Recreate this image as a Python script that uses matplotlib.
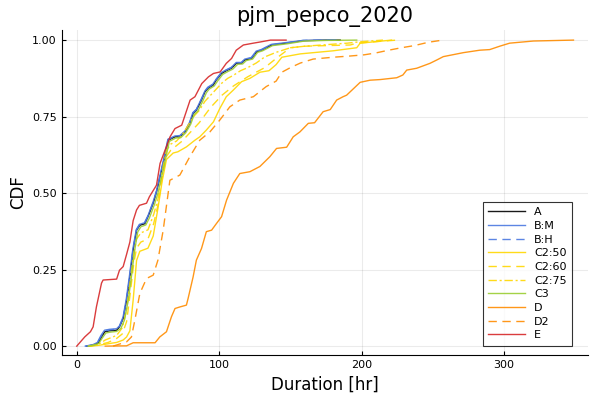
import matplotlib
matplotlib.use("Agg")
import matplotlib.pyplot as plt
from matplotlib.ticker import FormatStrFormatter

# duration [hr] / CDF pairs
a_x = [7, 11.5, 15, 17.4, 19.7, 23, 28, 30, 32.6, 35, 37.3, 39.6, 42, 44.3, 47.8, 50, 53.7, 56, 60.7, 64.2,
       69, 72.4, 76, 79.4, 81.7, 84, 87.6, 90, 92.3, 95.8, 98, 101.7, 105, 108.7, 112, 115.7, 118, 122.8,
       126.3, 129.8, 136.8, 147, 159, 175, 185]
a_y = [0, 0.003, 0.01, 0.03, 0.047, 0.05, 0.052, 0.063, 0.09, 0.15, 0.226, 0.314, 0.379, 0.395, 0.40, 0.423,
       0.467, 0.504, 0.597, 0.673, 0.684, 0.684, 0.70, 0.728, 0.76, 0.771, 0.804, 0.831, 0.843, 0.853, 0.87,
       0.891, 0.90, 0.908, 0.924, 0.924, 0.935, 0.94, 0.962, 0.967, 0.984, 0.99, 0.998, 1.0, 1.0]

bm_x = [6, 11, 14.5, 17, 19.5, 23, 28, 30, 32.5, 34.8, 37, 39.4, 41.8, 44, 47.5, 50, 53.5, 56, 60.5, 64,
        69, 72.4, 76, 79.2, 81.5, 84, 87.4, 90, 92, 95.5, 98, 101.5, 105, 108.5, 112, 115.5, 118, 122.5,
        126, 129.5, 136.5, 147, 159, 175, 182]
bm_y = [0, 0.004, 0.012, 0.035, 0.052, 0.055, 0.057, 0.066, 0.095, 0.155, 0.23, 0.318, 0.381, 0.398, 0.403,
        0.426, 0.47, 0.507, 0.60, 0.676, 0.687, 0.688, 0.703, 0.731, 0.763, 0.774, 0.807, 0.834, 0.846, 0.856,
        0.873, 0.894, 0.903, 0.911, 0.927, 0.927, 0.938, 0.943, 0.964, 0.969, 0.986, 0.992, 0.999, 1.0, 1.0]

bh_x = [6, 11, 14.5, 17.2, 19.6, 23, 28, 30, 32.6, 35, 37.2, 39.5, 42, 44.2, 47.7, 50, 53.6, 56, 60.6, 64.1,
        69, 72.4, 76, 79.3, 81.6, 84, 87.5, 90, 92.2, 95.7, 98, 101.6, 105, 108.6, 112, 115.6, 118, 122.7,
        126.2, 129.7, 136.7, 147, 159, 175, 182]
bh_y = [0, 0.004, 0.011, 0.033, 0.05, 0.053, 0.055, 0.065, 0.092, 0.152, 0.228, 0.316, 0.38, 0.397, 0.402,
        0.425, 0.469, 0.506, 0.599, 0.675, 0.686, 0.687, 0.702, 0.73, 0.762, 0.773, 0.806, 0.833, 0.845, 0.855,
        0.872, 0.893, 0.902, 0.91, 0.926, 0.926, 0.937, 0.942, 0.963, 0.968, 0.985, 0.991, 0.999, 1.0, 1.0]

c250_x = [10, 16, 25, 28, 32.6, 35, 37.3, 39.6, 42, 44.3, 50, 53.7, 57, 60, 63, 67.7, 71, 77, 83, 86.4, 91,
          96, 100.5, 105, 110, 115.7, 121.6, 128.6, 135, 140, 144, 157, 180, 196.6, 199, 208, 221]
c250_y = [0, 0.003, 0.01, 0.012, 0.02, 0.03, 0.05, 0.15, 0.28, 0.31, 0.32, 0.36, 0.45, 0.54, 0.61, 0.631,
          0.635, 0.651, 0.673, 0.684, 0.706, 0.733, 0.777, 0.815, 0.837, 0.864, 0.875, 0.895, 0.90, 0.92, 0.944,
          0.955, 0.965, 0.975, 0.99, 0.994, 1.0]

c260_x = [9, 15, 22, 28, 32, 35, 37.5, 40, 42, 45, 50, 54, 57, 60, 63, 66, 70, 74, 78, 82, 86, 90, 94, 98,
          102, 106, 110, 115, 120, 126, 132, 140, 150, 160, 175, 192, 197, 210, 225]
c260_y = [0, 0.004, 0.012, 0.025, 0.04, 0.08, 0.17, 0.27, 0.32, 0.34, 0.35, 0.40, 0.46, 0.55, 0.62, 0.64,
          0.655, 0.67, 0.69, 0.71, 0.73, 0.755, 0.78, 0.80, 0.82, 0.835, 0.85, 0.865, 0.88, 0.895, 0.91, 0.94,
          0.975, 0.98, 0.982, 0.984, 0.99, 0.995, 1.0]

c275_x = [8, 15, 20, 28, 32, 35, 37.5, 40, 42, 45, 50, 54, 57, 60, 63, 66, 70, 74, 78, 82, 86, 90, 94, 98,
          102, 106, 110, 115, 120, 126, 132, 140, 150, 160, 175, 190, 200, 215]
c275_y = [0, 0.005, 0.02, 0.035, 0.06, 0.12, 0.21, 0.30, 0.35, 0.37, 0.38, 0.43, 0.48, 0.57, 0.64, 0.66,
          0.67, 0.69, 0.72, 0.75, 0.77, 0.80, 0.82, 0.84, 0.86, 0.875, 0.885, 0.90, 0.91, 0.925, 0.945, 0.96,
          0.975, 0.98, 0.985, 0.99, 0.995, 1.0]

c3_x = [8, 12, 15.5, 18, 20.5, 24, 28, 31, 33.5, 36, 38.2, 40.5, 42.8, 45, 48.5, 51, 54.5, 57, 61.5, 65,
        69.5, 73, 76.5, 80, 82.5, 85, 88.5, 91, 93, 96.5, 99, 102.5, 106, 109.5, 113, 116.5, 119, 123.5,
        127, 130.5, 137.5, 148, 160, 176, 196.6]
c3_y = [0, 0.003, 0.009, 0.027, 0.043, 0.046, 0.048, 0.058, 0.085, 0.145, 0.22, 0.308, 0.373, 0.39, 0.396,
        0.419, 0.462, 0.5, 0.593, 0.669, 0.68, 0.681, 0.697, 0.725, 0.757, 0.768, 0.801, 0.828, 0.84, 0.85,
        0.867, 0.888, 0.897, 0.905, 0.921, 0.922, 0.933, 0.938, 0.96, 0.965, 0.982, 0.988, 0.997, 0.999, 1.0]

d_x = [20, 35, 39.6, 55, 58.3, 63, 66.5, 69, 72.4, 77, 78.2, 81.7, 84, 87.6, 91, 94.7, 98, 101.7, 105.2,
       110, 114.5, 121.6, 128.6, 135.6, 140.3, 147.4, 152, 156.7, 162.6, 167, 173, 178, 182.5, 187, 189.5,
       199, 206, 213, 224.7, 229, 231.7, 238.7, 248, 252.8, 257.4, 271.5, 283, 290, 297, 304, 320.7, 348.8]
d_y = [0, 0.001, 0.011, 0.011, 0.03, 0.047, 0.096, 0.123, 0.128, 0.134, 0.156, 0.226, 0.281, 0.319, 0.374,
       0.379, 0.40, 0.423, 0.477, 0.532, 0.564, 0.57, 0.587, 0.619, 0.646, 0.65, 0.684, 0.70, 0.728, 0.73,
       0.766, 0.773, 0.804, 0.815, 0.82, 0.862, 0.869, 0.871, 0.877, 0.886, 0.902, 0.908, 0.924, 0.935,
       0.946, 0.959, 0.967, 0.969, 0.98, 0.99, 0.997, 1.0]

d2_x = [25.5, 35, 38.4, 40.8, 44.3, 49, 53.7, 57, 60.7, 65.4, 72.4, 79.4, 86.4, 93.5, 100.5, 107.5, 114.5,
        124, 133, 140, 144, 150, 157, 166, 180, 192, 202, 210, 219, 228, 237, 247, 257]
d2_y = [0, 0.014, 0.03, 0.085, 0.172, 0.221, 0.232, 0.281, 0.379, 0.542, 0.559, 0.619, 0.673, 0.70, 0.739,
        0.782, 0.804, 0.815, 0.848, 0.866, 0.895, 0.91, 0.925, 0.938, 0.944, 0.948, 0.952, 0.958, 0.967,
        0.975, 0.982, 0.993, 1.0]

e_x = [0, 5.6, 9.6, 11.5, 13.8, 17.4, 18.5, 28, 30, 32.6, 35, 37.3, 39.6, 42, 44, 49, 51, 56, 58.5, 65.5,
       69, 73.7, 79.6, 83, 87.8, 92.5, 96, 100.7, 105, 108.7, 112, 117, 124, 129, 136, 147]
e_y = [0, 0.03, 0.047, 0.063, 0.128, 0.206, 0.216, 0.219, 0.248, 0.26, 0.30, 0.34, 0.41, 0.445, 0.46, 0.467,
       0.488, 0.526, 0.597, 0.684, 0.711, 0.722, 0.804, 0.815, 0.858, 0.88, 0.891, 0.896, 0.924, 0.94, 0.967,
       0.984, 0.99, 0.994, 1.0, 1.0]

series = [
    ("A", a_x, a_y, "black", "-"),
    ("B:M", bm_x, bm_y, "#4a78e0", "-"),
    ("B:H", bh_x, bh_y, "#4a78e0", (0, (6, 4))),
    ("C2:50", c250_x, c250_y, "gold", "-"),
    ("C2:60", c260_x, c260_y, "gold", (0, (6, 4))),
    ("C2:75", c275_x, c275_y, "gold", (0, (6, 2, 1.5, 2))),
    ("C3", c3_x, c3_y, "yellowgreen", "-"),
    ("D", d_x, d_y, "darkorange", "-"),
    ("D2", d2_x, d2_y, "darkorange", (0, (6, 4))),
    ("E", e_x, e_y, "#d62728", "-"),
]

fig = plt.figure(figsize=(6, 4), dpi=100)
ax = fig.add_axes([0.103, 0.1125, 0.877, 0.8125])

for name, xs, ys, col, ls in series:
    ax.plot(xs, ys, color=col, linestyle=ls, linewidth=1.0, alpha=0.9, label=name)

ax.set_xlim(-10.5, 359)
ax.set_ylim(-0.029, 1.033)
ax.set_xticks([0, 100, 200, 300])
ax.set_yticks([0, 0.25, 0.5, 0.75, 1.0])
ax.yaxis.set_major_formatter(FormatStrFormatter("%.2f"))
ax.grid(True, color="black", alpha=0.08, linewidth=0.8)
ax.spines["top"].set_visible(False)
ax.spines["right"].set_visible(False)
ax.tick_params(direction="in", length=3, labelsize=8)
ax.set_xlabel("Duration [hr]", fontsize=12)
ax.set_ylabel("CDF", fontsize=12)
ax.set_title("pjm_pepco_2020", fontsize=15)

leg = ax.legend(loc="lower right", bbox_to_anchor=(0.97, 0.028), borderaxespad=0,
                fontsize=8, frameon=True, fancybox=False, edgecolor="black",
                handlelength=3.3, labelspacing=0.33, borderpad=0.5)
leg.get_frame().set_linewidth(0.8)

fig.savefig("out.png", dpi=100)
